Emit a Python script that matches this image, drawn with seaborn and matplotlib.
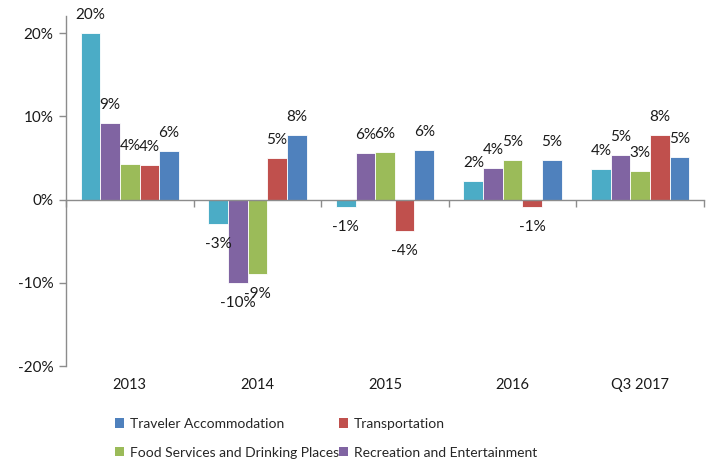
import matplotlib
matplotlib.use("Agg")
import matplotlib.pyplot as plt
import seaborn as sns
import pandas as pd
from matplotlib.patches import Patch

categories = ["2013", "2014", "2015", "2016", "Q3 2017"]
series_names = ["Tourism Industries", "Recreation and Entertainment",
                "Food Services and Drinking Places", "Transportation",
                "Traveler Accommodation"]
tourism = [20.0, -2.9, -0.9, 2.2, 3.7]
recreation = [9.2, -10.0, 5.6, 3.8, 5.4]
food = [4.3, -8.9, 5.7, 4.8, 3.4]
transport = [4.1, 5.0, -3.8, -0.9, 7.7]
accommodation = [5.8, 7.7, 6.0, 4.8, 5.1]
yticks = [-20, -10, 0, 10, 20]

colors = {"Tourism Industries": "#4BACC6",
          "Recreation and Entertainment": "#8064A2",
          "Food Services and Drinking Places": "#9BBB59",
          "Transportation": "#C0504D",
          "Traveler Accommodation": "#4F81BD"}

rows = []
for name, vals in zip(series_names, [tourism, recreation, food, transport, accommodation]):
    for c, v in zip(categories, vals):
        rows.append({"cat": c, "series": name, "value": v})
df = pd.DataFrame(rows)

sns.set_theme(style="white")
plt.rcParams["font.family"] = ["Lato", "DejaVu Sans"]

fig = plt.figure(figsize=(7.09, 4.61), dpi=100)
ax = fig.add_axes([66 / 709, 1 - 366 / 461, (704 - 66) / 709, (366 - 16.35) / 461])

sns.barplot(data=df, x="cat", y="value", hue="series", order=categories,
            hue_order=series_names, palette=colors, width=0.77, gap=0,
            edgecolor="white", linewidth=0.6, saturation=1, ax=ax, legend=False)

ax.set_ylim(-20, 22)
ax.set_xlim(-0.5, len(categories) - 0.5)
ax.set_yticks(yticks)
ax.set_yticklabels([f"{t}%" for t in yticks], fontsize=11, color="#1a1a1a")
ax.set_xlabel("")
ax.set_ylabel("")

gray = "#8c8c8c"
for s in ["top", "right"]:
    ax.spines[s].set_visible(False)
ax.spines["left"].set_color(gray)
ax.spines["left"].set_linewidth(1.0)
ax.spines["bottom"].set_position(("data", 0))
ax.spines["bottom"].set_color(gray)
ax.spines["bottom"].set_linewidth(1.0)
ax.tick_params(axis="y", which="major", direction="out", length=5, width=1,
               color=gray, left=True, pad=4)
ax.set_xticks([i - 0.5 for i in range(len(categories) + 1)])
ax.set_xticklabels([])
ax.tick_params(axis="x", which="major", direction="out", length=5, width=1,
               color=gray, bottom=True)
for i, c in enumerate(categories):
    ax.text(i, -0.055, c, transform=ax.get_xaxis_transform(), ha="center",
            va="center", fontsize=10.5, color="#1a1a1a")

for cont in ax.containers:
    for bar in cont:
        h = bar.get_height()
        x = bar.get_x() + bar.get_width() / 2
        lab = f"{round(h):.0f}%"
        if h >= 0:
            ax.annotate(lab, (x, h), xytext=(0, 11), textcoords="offset pixels",
                        ha="center", va="bottom", fontsize=11, color="#1a1a1a")
        else:
            ax.annotate(lab, (x, h), xytext=(0, -13), textcoords="offset pixels",
                        ha="center", va="top", fontsize=11, color="#1a1a1a")

legend_order = ["Traveler Accommodation", "Food Services and Drinking Places",
                "Transportation", "Recreation and Entertainment"]
handles = [Patch(facecolor=colors[n], edgecolor="none", label=n) for n in legend_order]
fig.legend(handles=handles, loc="upper left", bbox_to_anchor=(115 / 709, 1 - 418 / 461),
           ncol=2, frameon=False, fontsize=10, handlelength=0.65, handleheight=0.65,
           handletextpad=0.4, columnspacing=0.05, labelspacing=1.2, borderpad=0,
           borderaxespad=0)

fig.savefig("out.png", dpi=100)
